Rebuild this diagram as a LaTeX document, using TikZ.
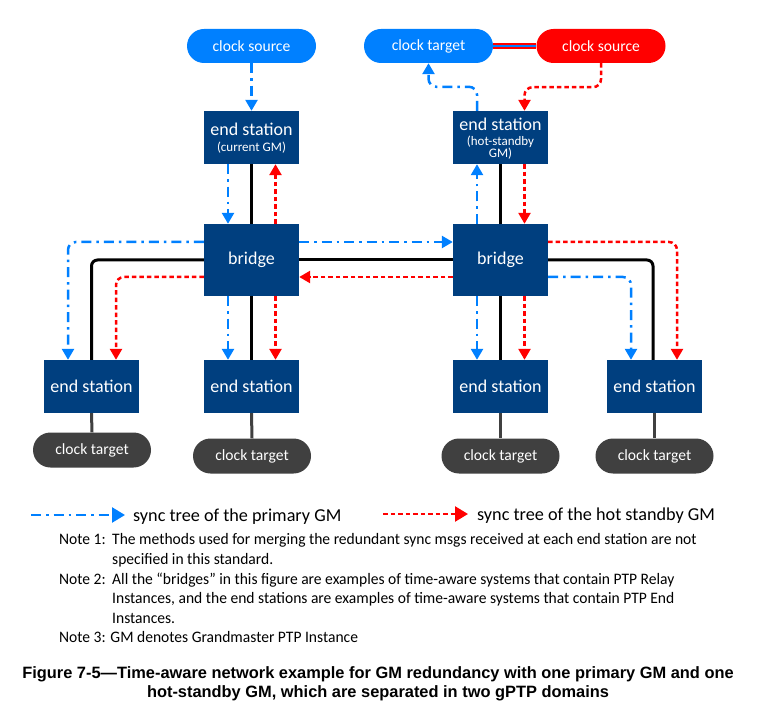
\documentclass[tikz,border=0pt]{standalone}
\usepackage{fontspec}
\setmainfont{Carlito}
\newfontfamily\capfont{Liberation Sans}
\newfontfamily\notefont{Carlito}[FakeStretch=0.972]
\usetikzlibrary{arrows.meta}
\definecolor{pillblue}{RGB}{0,128,255}
\definecolor{boxblue}{RGB}{0,63,127}
\definecolor{tgray}{RGB}{64,64,64}
\definecolor{gred}{RGB}{255,0,0}
\newcommand{\subfont}{\fontsize{13}{13}\selectfont}
\tikzset{
  pill/.style={rectangle, rounded corners=17pt, minimum width=129pt, minimum height=34pt, inner sep=0pt, text=white, font=\fontsize{15.6}{17}\selectfont},
  bluepill/.style={pill, fill=pillblue},
  redpill/.style={pill, fill=gred},
  graypill/.style={rectangle, rounded corners=17.5pt, minimum width=118pt, minimum height=35pt, inner sep=0pt, fill=tgray, text=white, font=\fontsize{15.6}{17}\selectfont},
  station/.style={rectangle, fill=boxblue, minimum width=95pt, minimum height=53pt, inner sep=0pt, text=white, align=center, font=\fontsize{18}{19}\selectfont},
  bridgebox/.style={station, minimum height=72pt},
  boxlabel/.style={inner sep=0pt, text=white, align=center, font=\fontsize{18}{19}\selectfont},
  wire/.style={line width=3pt, black, rounded corners=6pt},
  graywire/.style={line width=3pt, tgray},
  primary/.style={draw=pillblue, line width=2.5pt, dash pattern=on 10pt off 5pt on 2.5pt off 5pt, rounded corners=8pt, -{Triangle[width=12pt,length=11pt,fill=pillblue]}},
  standby/.style={draw=gred, line width=2.5pt, dash pattern=on 4.5pt off 3pt, rounded corners=8pt, -{Triangle[width=12pt,length=11pt,fill=gred]}},
  legtext/.style={anchor=base west, inner sep=0pt, font=\fontsize{18.2}{20}\selectfont},
  notetext/.style={anchor=base west, inner sep=0pt, font=\notefont\fontsize{16}{18}\selectfont},
  captext/.style={anchor=base, inner sep=0pt, font=\capfont\bfseries\fontsize{16.4}{18}\selectfont},
}
\begin{document}
\begin{tikzpicture}[x=1pt,y=-1pt]
\useasboundingbox[fill=white] (0,0) rectangle (760,719);
% top pills
\node[bluepill] (cs1) at (251.5,46) {clock source};
\node[bluepill] (ct1) at (428.5,46) {clock target};
\node[redpill] (cs2) at (601,46) {clock source};
% stations
\node[station] (gm1) at (251.5,137.5) {};
\node[boxlabel, anchor=base] (gm1a) at (251.5,136) {end station};
\node[boxlabel, anchor=base, font=\subfont] (gm1b) at (251.5,151.5) {(current GM)};
\node[station] (gm2) at (500.5,137.5) {};
\node[boxlabel, anchor=base] (gm2a) at (500.5,131) {end station};
\node[boxlabel, anchor=base, font=\subfont] (gm2b) at (500.5,145.5) {(hot-standby};
\node[boxlabel, anchor=base, font=\subfont] (gm2c) at (500.5,158) {GM)};
\node[bridgebox] (br1) at (251.5,260) {bridge};
\node[bridgebox] (br2) at (500.5,260) {bridge};
\node[station] (es1) at (91.5,386.5) {end station};
\node[station] (es2) at (251.5,386.5) {end station};
\node[station] (es3) at (500.5,386.5) {end station};
\node[station] (es4) at (654.5,386.5) {end station};
\node[graypill] (t1) at (92,450) {clock target};
\node[graypill] (t2) at (252,456) {clock target};
\node[graypill] (t3) at (500.5,456) {clock target};
\node[graypill] (t4) at (654.5,456) {clock target};
% link between clock target and clock source
\draw[gred, line width=6pt] (ct1.east) -- (cs2.west);
\draw[pillblue, line width=2pt] (ct1.east) -- (cs2.west);
% black links
\draw[wire] (gm1.south) -- (br1.north);
\draw[wire] (gm2.south) -- (br2.north);
\draw[wire] (br1.south) -- (es2.north);
\draw[wire] (br2.south) -- (es3.north);
\draw[wire] (es1.north) |- (br1.west);
\draw[wire] (br1.east) -- (br2.west);
\draw[wire] (br2.east) -| ([xshift=-1.5pt]es4.north);
% gray links
\draw[graywire] (es1.south) -- (t1.north);
\draw[graywire] (es2.south) -- (t2.north);
\draw[graywire] (es3.south) -- (t3.north);
\draw[graywire] (es4.south) -- (t4.north);
% primary sync tree
\draw[primary] (cs1.south) -- (gm1.north);
\draw[primary] ([xshift=-23.5pt]gm1.south) -- ([xshift=-23.5pt]br1.north);
\draw[primary] ([yshift=18pt]br1.east) -- ([yshift=18pt]br2.west);
\draw[primary] ([yshift=18pt]br1.west) -| ([xshift=-23.5pt]es1.north);
\draw[primary] ([xshift=-23.5pt]br1.south) -- ([xshift=-23.5pt]es2.north);
\draw[primary] ([xshift=-23.5pt]br2.north) -- ([xshift=-23.5pt]gm2.south);
\draw[primary] ([xshift=-23.5pt]gm2.north) -- ++(0,-24) -| (ct1.south);
\draw[primary] ([xshift=-23.5pt]br2.south) -- ([xshift=-23.5pt]es3.north);
\draw[primary] ([yshift=-17pt]br2.east) -| ([xshift=-23.5pt]es4.north);
% standby sync tree
\draw[standby] (cs2.south) -- ++(0,24) -| ([xshift=24pt]gm2.north);
\draw[standby] ([xshift=24pt]gm2.south) -- ([xshift=24pt]br2.north);
\draw[standby] ([yshift=-17pt]br2.west) -- ([yshift=-17pt]br1.east);
\draw[standby] ([xshift=24pt]br1.north) -- ([xshift=24pt]gm1.south);
\draw[standby] ([yshift=-17pt]br1.west) -| ([xshift=24.5pt]es1.north);
\draw[standby] ([xshift=24pt]br1.south) -- ([xshift=24pt]es2.north);
\draw[standby] ([xshift=24pt]br2.south) -- ([xshift=24pt]es3.north);
\draw[standby] ([yshift=18pt]br2.east) -| ([xshift=22.5pt]es4.north);
% legend
\coordinate (la1) at (31,515);
\coordinate (la2) at (125,515);
\coordinate (lb1) at (383,514);
\coordinate (lb2) at (468,514);
\draw[primary, -{Triangle[width=15pt,length=13pt,fill=pillblue]}] (la1) -- (la2);
\draw[standby, -{Triangle[width=15pt,length=13pt,fill=gred]}] (lb1) -- (lb2);
\node[legtext] (lt1) at (133,521) {sync tree of the primary GM};
\node[legtext] (lt2) at (477,520) {sync tree of the hot standby GM};
% notes
\node[notetext] (n1a) at (59,544) {Note 1:};
\node[notetext] (n1b) at (112,544) {The methods used for merging the redundant sync msgs received at each end station are not};
\node[notetext] (n1c) at (112,564) {specified in this standard.};
\node[notetext] (n2a) at (59,584) {Note 2:};
\node[notetext] (n2b) at (112,584) {All the “bridges” in this figure are examples of time-aware systems that contain PTP Relay};
\node[notetext] (n2c) at (112,603.5) {Instances, and the end stations are examples of time-aware systems that contain PTP End};
\node[notetext] (n2d) at (112,623) {Instances.};
\node[notetext] (n3a) at (59,642) {Note 3: GM denotes Grandmaster PTP Instance};
% caption
\node[captext] (c1) at (378,678) {Figure 7-5—Time-aware network example for GM redundancy with one primary GM and one};
\node[captext] (c2) at (378,697) {hot-standby GM, which are separated in two gPTP domains};
\end{tikzpicture}
\end{document}
